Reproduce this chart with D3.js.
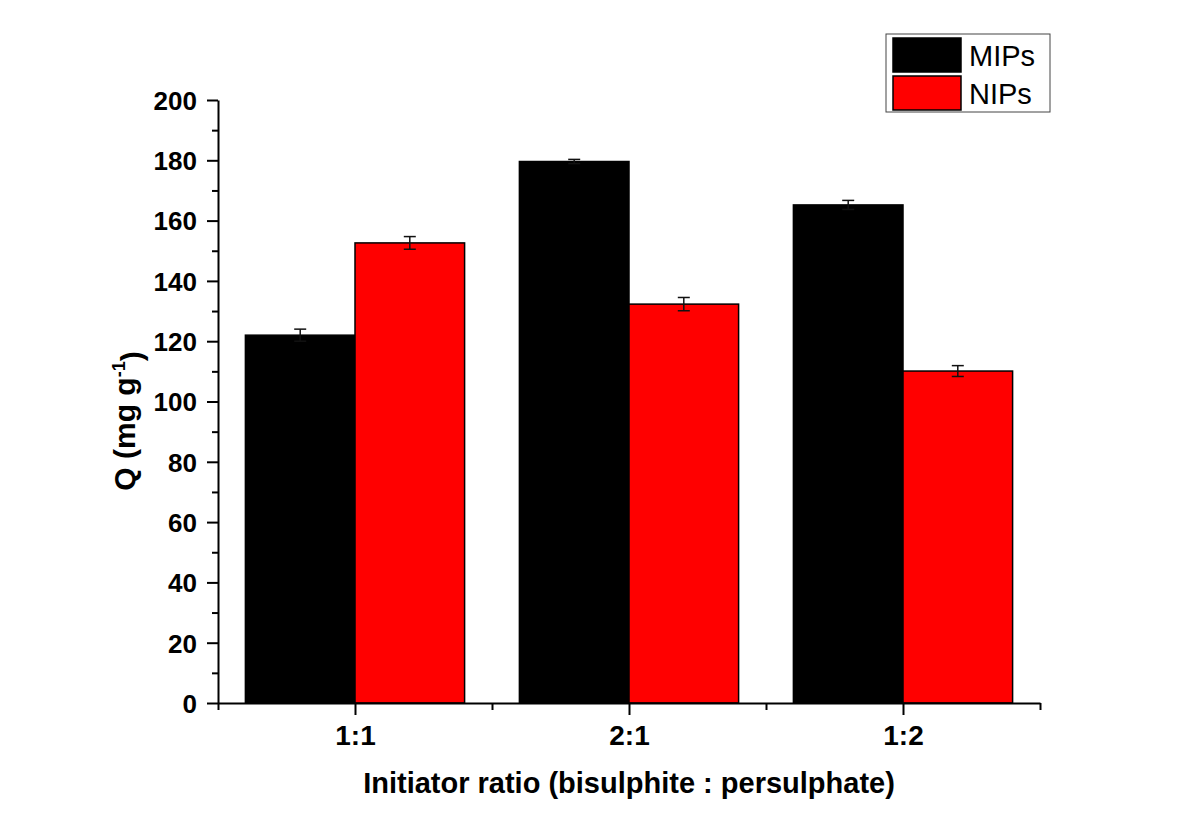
<!DOCTYPE html>
<html lang="en">
<head>
<meta charset="UTF-8">
<title>Initiator ratio</title>
<script src="https://d3js.org/d3.v7.min.js"></script>
<style>
  body { margin: 0; background: #fff; }
  text { font-family: "Liberation Sans", Arial, sans-serif; fill: #000; }
  .tick-label { font-weight: bold; }
</style>
</head>
<body>
<svg id="chart" width="1199" height="838"></svg>
<script>
// data
const categories = ["1:1", "2:1", "1:2"];
const seriesNames = ["MIPs", "NIPs"];
const seriesColors = ["#000000", "#ff0000"];
const mipsValues = [122.0, 179.6, 165.2];
const mipsErrors = [2.0, 0.7, 1.5];
const nipsValues = [152.6, 132.3, 110.1];
const nipsErrors = [2.1, 2.2, 1.8];
const yTicks = [0, 20, 40, 60, 80, 100, 120, 140, 160, 180, 200];

const svg = d3.select("#chart");
const plotLeft = 218, plotRight = 1040, plotTop = 100, plotBottom = 703;

const x = d3.scaleLinear().domain([0.5, categories.length + 0.5]).range([plotLeft, plotRight]);
const y = d3.scaleLinear().domain([0, 200]).range([plotBottom, plotTop]);
const barW = 0.4;

const series = [
  { name: seriesNames[0], color: seriesColors[0], values: mipsValues, errors: mipsErrors, off: -barW },
  { name: seriesNames[1], color: seriesColors[1], values: nipsValues, errors: nipsErrors, off: 0 }
];

// bars
series.forEach(s => {
  const g = svg.append("g");
  g.selectAll("rect").data(s.values).join("rect")
    .attr("x", (d, i) => x(i + 1 + s.off))
    .attr("y", d => y(d))
    .attr("width", x(barW) - x(0))
    .attr("height", d => y(0) - y(d))
    .attr("fill", s.color)
    .attr("stroke", "#000")
    .attr("stroke-width", 1.5);

  // error bars
  const eb = svg.append("g").attr("stroke", "#111").attr("stroke-width", 1.5);
  s.values.forEach((v, i) => {
    const cx = x(i + 1 + s.off + barW / 2);
    const e = s.errors[i];
    eb.append("line").attr("x1", cx).attr("x2", cx).attr("y1", y(v + e)).attr("y2", y(v - e));
    eb.append("line").attr("x1", cx - 6).attr("x2", cx + 6).attr("y1", y(v + e)).attr("y2", y(v + e));
    eb.append("line").attr("x1", cx - 6).attr("x2", cx + 6).attr("y1", y(v - e)).attr("y2", y(v - e));
  });
});

// y axis
const yAxis = d3.axisLeft(y).tickValues(yTicks).tickSize(11).tickSizeOuter(0).tickPadding(10);
const yG = svg.append("g").attr("transform", `translate(${plotLeft},0)`).call(yAxis);
yG.selectAll("text").attr("class", "tick-label").style("font-size", "26px")
  .style("font-family", "'Liberation Sans', Arial, sans-serif").attr("dy", "0.36em");
const yMinor = d3.axisLeft(y).tickValues(d3.range(10, 200, 20)).tickSize(6).tickFormat("");
svg.append("g").attr("transform", `translate(${plotLeft},0)`).call(yMinor)
  .call(g => g.select(".domain").remove());

// x axis
const xAxis = d3.axisBottom(x).tickValues(d3.range(1, categories.length + 1))
  .tickFormat(i => categories[i - 1]).tickSize(12).tickSizeOuter(0).tickPadding(10);
const xG = svg.append("g").attr("transform", `translate(0,${plotBottom})`).call(xAxis);
xG.selectAll("text").attr("class", "tick-label").style("font-size", "28px")
  .style("font-family", "'Liberation Sans', Arial, sans-serif");
const xMinor = d3.axisBottom(x).tickValues(d3.range(0.5, categories.length + 1, 1)).tickSize(7).tickFormat("");
svg.append("g").attr("transform", `translate(0,${plotBottom})`).call(xMinor)
  .call(g => g.select(".domain").remove());

svg.selectAll(".domain, .tick line").attr("stroke", "#000").attr("stroke-width", 2);

// axis titles
svg.append("text")
  .attr("x", 629)
  .attr("y", 793)
  .attr("text-anchor", "middle")
  .style("font-size", "29px").style("font-weight", "bold")
  .text("Initiator ratio (bisulphite : persulphate)");

const yTitle = svg.append("text")
  .attr("transform", "translate(135,421) rotate(-90)")
  .attr("text-anchor", "middle")
  .style("font-size", "30px").style("font-weight", "bold");
yTitle.append("tspan").text("Q (mg g");
yTitle.append("tspan").attr("dy", "-0.55em").style("font-size", "18px").text("-1");
yTitle.append("tspan").attr("dy", "0.55em").text(")");

// legend
const legend = svg.append("g").attr("transform", "translate(886,34)");
legend.append("rect").attr("width", 164).attr("height", 78)
  .attr("fill", "#fff").attr("stroke", "#444").attr("stroke-width", 1);
series.forEach((s, i) => {
  legend.append("rect")
    .attr("x", 7).attr("y", 4 + i * 38).attr("width", 68).attr("height", 34)
    .attr("fill", s.color).attr("stroke", "#000").attr("stroke-width", 1.5);
  legend.append("text")
    .attr("x", 83).attr("y", 32 + i * 38)
    .style("font-size", "29px")
    .text(s.name);
});
</script>
</body>
</html>
